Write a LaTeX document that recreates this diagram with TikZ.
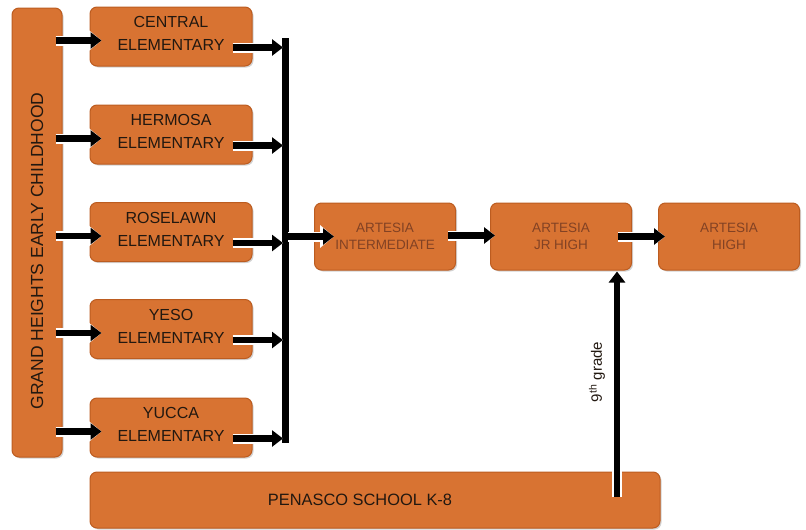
\documentclass[tikz,border=0pt]{standalone}
\usepackage{fontspec}
\setmainfont{Liberation Sans}
\usetikzlibrary{arrows.meta,calc,shadows}
\definecolor{boxfill}{RGB}{216,115,50}
\definecolor{boxedge}{RGB}{188,92,32}
\definecolor{darktxt}{RGB}{34,24,16}
\definecolor{lighttxt}{RGB}{130,66,36}
\tikzset{
  box/.style={draw=boxedge, line width=1pt, fill=boxfill, rounded corners=7pt,
    drop shadow={shadow xshift=1.5pt, shadow yshift=-1.5pt, opacity=0.35},
    align=center, inner sep=0pt},
  elem/.style={box, minimum width=162pt, minimum height=59pt, text=darktxt,
    text depth=6pt, font=\fontsize{16}{23}\selectfont},
  art/.style={box, minimum width=141pt, minimum height=67pt, text=lighttxt,
    font=\fontsize{13.5}{16.5}\selectfont},
  arr/.style={line width=6.5pt, -{Triangle[length=11pt,width=16pt]},
    preaction={draw=white, line width=10pt, -{Triangle[length=14pt,width=22pt]}}},
}
\begin{document}
\begin{tikzpicture}[x=1pt,y=-1pt]
\useasboundingbox (0,0) rectangle (806,530);
% left tall box
\node[box, minimum width=449pt, minimum height=50pt, rotate=90] (gh) at (37,232.5) {};
\node[rotate=90, text=darktxt, font=\fontsize{17.5}{20}\selectfont] (ghtext) at (37,251) {GRAND HEIGHTS EARLY CHILDHOOD};
% elementary schools
\node[elem] (c1) at (171,36.5) {CENTRAL\\ELEMENTARY};
\node[elem] (c2) at (171,134.5) {HERMOSA\\ELEMENTARY};
\node[elem] (c3) at (171,232) {ROSELAWN\\ELEMENTARY};
\node[elem] (c4) at (171,329) {YESO\\ELEMENTARY};
\node[elem] (c5) at (171,427.5) {YUCCA\\ELEMENTARY};
% artesia schools
\node[art] (ai) at (385,236.5) {ARTESIA\\INTERMEDIATE};
\node[art] (aj) at (561,236.5) {ARTESIA\\JR HIGH};
\node[art] (ah) at (729,236.5) {ARTESIA\\HIGH};
% penasco
\node[box, minimum width=570pt, minimum height=56pt, text=darktxt,
  font=\fontsize{16.4}{20}\selectfont] (pen) at (375,500) {PENASCO SCHOOL K-8\hspace*{30pt}};
% collector bar
\coordinate (bt) at (285,38);
\coordinate (bb) at (285,443);
\draw[line width=7pt, preaction={draw=white, line width=10pt}] (bt) -- (bb);
% arrows from early childhood
\foreach \n in {c1,c2,c3,c4,c5}{
  \draw[arr] ($(gh.south |- \n.west)+(-7,4)$) -- ($(\n.west)+(12,4)$);
  \draw[arr] ($(\n.east)+(-20,11)$) -- ($(\n.east -| bt)+(-2,11)$);
}
% bar to intermediate
\draw[arr] ($(bt |- ai.west)+(3,0)$) -- ($(ai.west)+(20,0)$);
\draw[arr] ($(ai.east)+(-8,-1)$) -- ($(aj.west)+(5,-1)$);
\draw[arr] ($(aj.east)+(-14,0)$) -- ($(ah.west)+(7,0)$);
% penasco to jr high
\coordinate (g) at (617,497);
\draw[arr] (g) -- ($(g |- aj.south)+(0,1)$);
\node[rotate=90, text=darktxt, font=\fontsize{15}{17}\selectfont] (nine) at (597,372) {9\textsuperscript{th} grade};
\end{tikzpicture}
\end{document}
